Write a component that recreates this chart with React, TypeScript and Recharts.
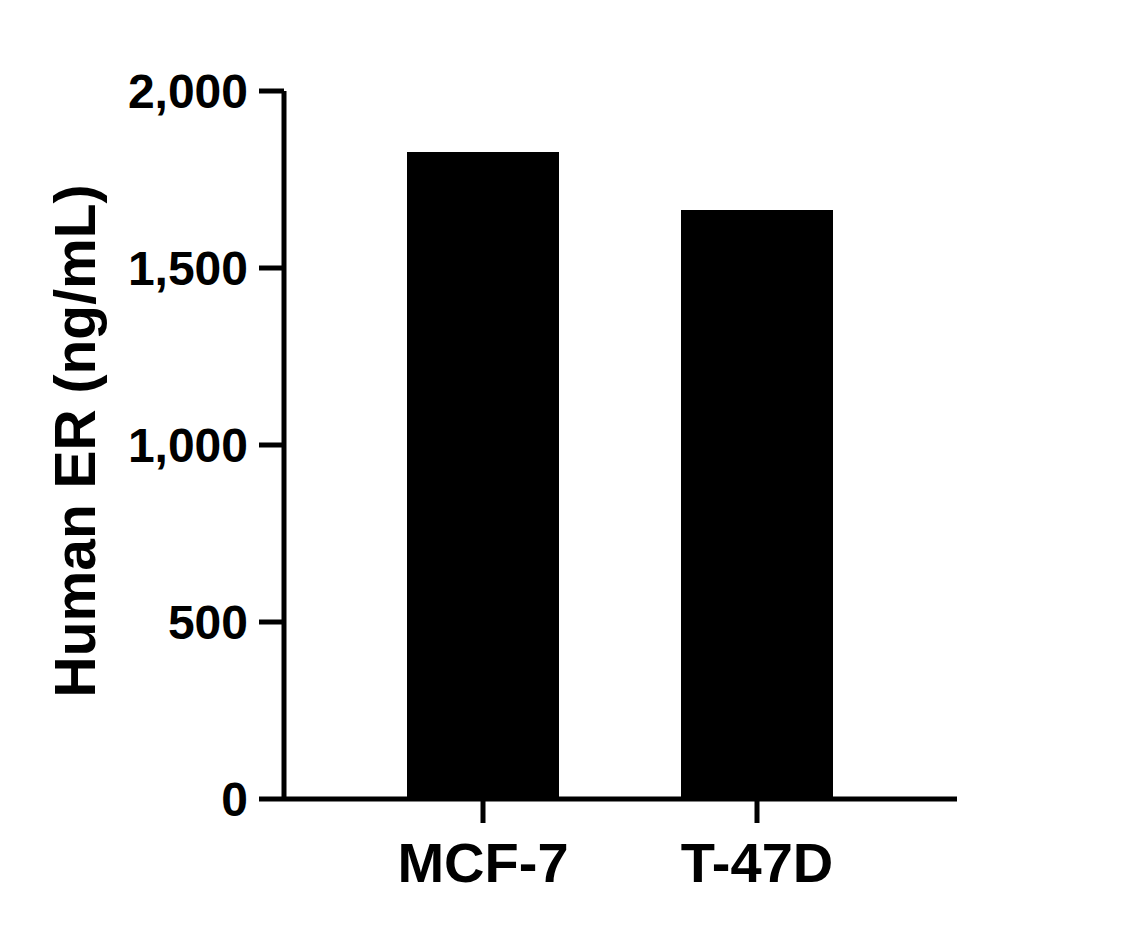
import React from 'react';
import { BarChart, Bar, XAxis, YAxis } from 'recharts';

const categories = ['MCF-7', 'T-47D'];
const values = [1828, 1664];
const yTicks = [0, 500, 1000, 1500, 2000];
const yLabel = 'Human ER (ng/mL)';

const data = categories.map((c, i) => ({ name: c, value: values[i] }));

const FONT = "'Liberation Sans', Arial, sans-serif";

const fmt = (v: number) => v.toLocaleString('en-US');

export default function App() {
  return (
    <div style={{ position: 'absolute', left: 0, top: 0, width: 1136, height: 934, background: '#fff' }}>
      <BarChart
        width={1136}
        height={934}
        data={data}
        margin={{ top: 91, right: 179, bottom: 0, left: 0 }}
      >
        <XAxis
          dataKey="name"
          height={135}
          padding={{ left: 62, right: 63 }}
          axisLine={{ stroke: '#000', strokeWidth: 5 }}
          tickLine={{ stroke: '#000', strokeWidth: 5 }}
          tickSize={24}
          tickMargin={19}
          tick={{ fill: '#000', fontSize: 56, fontWeight: 'bold', fontFamily: FONT }}
        />
        <YAxis
          width={284}
          domain={[0, 2000]}
          ticks={yTicks}
          tickFormatter={fmt}
          axisLine={{ stroke: '#000', strokeWidth: 5 }}
          tickLine={{ stroke: '#000', strokeWidth: 5 }}
          tickSize={25}
          tickMargin={11}
          tick={{ fill: '#000', fontSize: 48, fontWeight: 'bold', fontFamily: FONT }}
          label={{
            content: () => (
              <text
                x={95}
                y={441}
                transform="rotate(-90, 95, 441)"
                textAnchor="middle"
                fill="#000"
                fontSize={57}
                fontWeight="bold"
                fontFamily={FONT}
              >
                {yLabel}
              </text>
            ),
          }}
        />
        <Bar dataKey="value" fill="#000" barSize={152} isAnimationActive={false} />
      </BarChart>
    </div>
  );
}
